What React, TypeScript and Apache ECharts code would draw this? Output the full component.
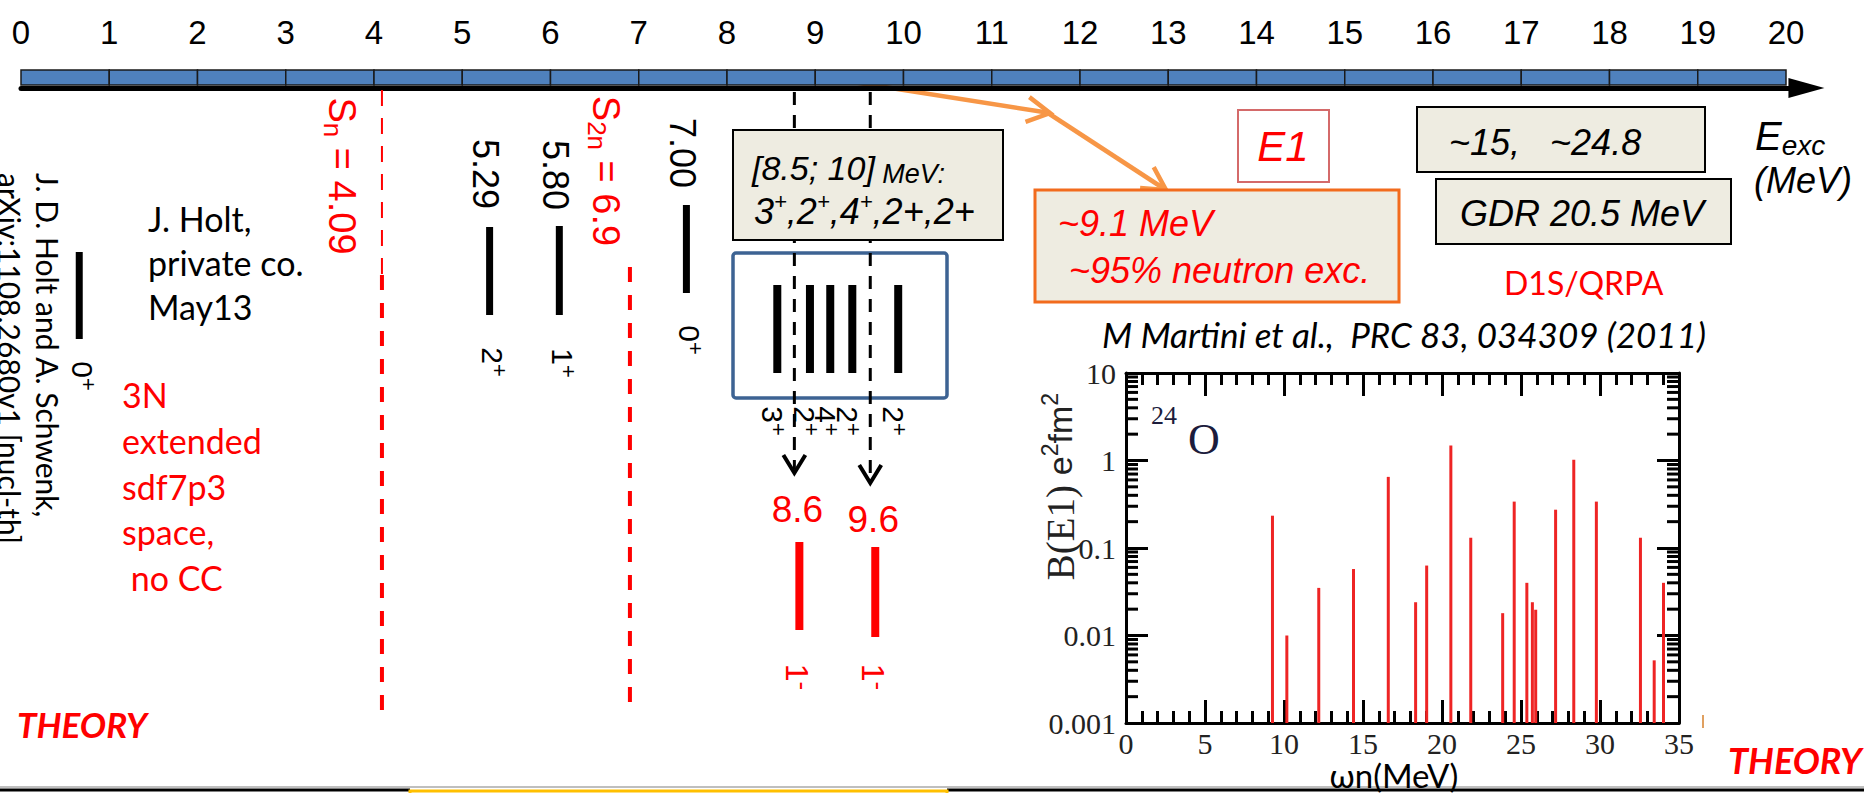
import React, { useEffect, useRef } from "react";
import * as echarts from "echarts";

// ================= DATA =================
// Main excitation-energy axis (MeV)
const energyTicks = [0, 1, 2, 3, 4, 5, 6, 7, 8, 9, 10, 11, 12, 13, 14, 15, 16, 17, 18, 19, 20];

// Shell-model levels (J. D. Holt, 3N, sdf7p3) – text and the MeV position where each is drawn
const levelLabels = ["", "5.29", "5.80", "7.00"];
const levelSpins = ["0", "2", "1", "0"];
const levelPositions = [0.66, 5.31, 6.1, 7.54];

// Separation energies
const thresholdSubscripts = ["n", "2n"];
const thresholdValues = [4.09, 6.9];

// Levels in the [8.5; 10] MeV window
const windowLevelPositions = [8.57, 8.94, 9.17, 9.42, 9.94];
const windowLevelSpins = ["3", "2", "4", "2", "2"];

// Predicted 1- states
const dipoleLabels = ["8.6", "9.6"];
const dipolePositions = [8.82, 9.68];

// Inset: D1S/QRPA B(E1) strengths for 24O
const qrpaEnergies = [9.27, 10.18, 12.2, 14.4, 16.6, 18.33, 19.03, 20.56, 21.82, 23.84, 24.57, 25.37, 25.72, 25.93, 27.19, 28.34, 29.77, 32.56, 33.43, 34.02];
const qrpaStrengths = [0.234, 0.01, 0.035, 0.0575, 0.65, 0.024, 0.063, 1.48, 0.131, 0.018, 0.339, 0.04, 0.024, 0.0197, 0.274, 1.02, 0.339, 0.131, 0.0052, 0.04];
const insetXTicks = [0, 5, 10, 15, 20, 25, 30, 35];
const insetYTickLabels = ["0.001", "0.01", "0.1", "1", "10"];
const minorDecades = [0.001, 0.01, 0.1, 1];
const minorSteps = [2, 3, 4, 5, 6, 7, 8, 9];

// ================= LAYOUT / STYLE =================
const ARIAL = "'Liberation Sans', Arial, Helvetica, sans-serif";
const CAL = "Lato, 'Open Sans', 'Noto Sans', sans-serif";
const TIMES = "'Liberation Serif', 'Times New Roman', serif";
const RED = "#ff0000";
const ROT = -Math.PI / 2;

const SEG_TOP = 70;
const SEG_H = 15;
const LEVEL_BAR_Y = [[252, 339], [227, 315], [226, 315], [205, 293]];
const LEVEL_LABEL_Y = [0, 174, 175, 153];
const LEVEL_SPIN_Y = [376, 362, 363, 340];
const THRESH_LABEL_DX = [-40, -24];
const THRESH_LABEL_Y = [176, 171];
const THRESH_THIN: (number[] | null)[] = [[90, 275], null];
const THRESH_THICK = [[275, 710], [267, 710]];
const WINDOW_BAR_Y = [285, 373];
const WINDOW_SPIN_Y = 421;
const DIPOLE_BAR_Y = [[542, 630], [547, 637]];
const DIPOLE_LABEL_Y = [509, 519];
const DIPOLE_SPIN_Y = 677;
const DIPOLE_ARROW_TIP = [473, 483];

type Opt = {
  size?: number; family?: string; color?: string; italic?: boolean; bold?: boolean;
  align?: string; valign?: string; rot?: number; rich?: any; lineHeight?: number; z?: number;
};

function txt(text: string, x: number, y: number, o: Opt = {}) {
  const align = o.align ?? "center";
  const valign = o.valign ?? "middle";
  const el: any = {
    type: "text",
    x,
    y,
    rotation: o.rot ?? 0,
    style: {
      text,
      fill: o.color ?? "#000",
      fontSize: o.size ?? 30,
      fontFamily: o.family ?? ARIAL,
      fontStyle: o.italic ? "italic" : "normal",
      fontWeight: o.bold ? "bold" : "normal",
      align,
      verticalAlign: valign,
      textAlign: align,
      textVerticalAlign: valign,
    },
  };
  if (o.rich) el.style.rich = o.rich;
  if (o.lineHeight) el.style.lineHeight = o.lineHeight;
  if (o.z !== undefined) el.z = o.z;
  return el;
}

function scriptRich(main: number, small: number, family: string, color: string, mode: "sup" | "sub", italic = false) {
  const fs = italic ? "italic" : "normal";
  return {
    a: { fontSize: main, lineHeight: Math.round(main * 1.15), fontFamily: family, fill: color, fontStyle: fs },
    s: { fontSize: small, lineHeight: small, fontFamily: family, fill: color, fontStyle: fs, verticalAlign: mode === "sup" ? "top" : "bottom" },
  };
}

function chevron(tx: number, ty: number, angle: number, len = 22, spread = 0.5) {
  const a1 = angle + Math.PI - spread;
  const a2 = angle + Math.PI + spread;
  return [
    [tx + len * Math.cos(a1), ty + len * Math.sin(a1)],
    [tx, ty],
    [tx + len * Math.cos(a2), ty + len * Math.sin(a2)],
  ];
}

function buildOption(): any {
  const segments = energyTicks.slice(0, -1).map((e, i) => [e, energyTicks[i + 1]]);
  const minorLogTicks = minorDecades.flatMap((d) => minorSteps.map((m) => [0, +(d * m).toPrecision(3)]));

  const customBase = (xi: number, yi: number) => ({
    type: "custom",
    coordinateSystem: "cartesian2d",
    xAxisIndex: xi,
    yAxisIndex: yi,
    clip: false,
    silent: true,
  });

  const orange = "#f79646";
  const a1 = Math.atan2(113 - 80, 1050 - 840);
  const a2 = Math.atan2(190 - 113, 1166 - 1048);

  const graphic: any[] = [
    // references / notes
    txt("J. D. Holt and A. Schwenk,\narXiv:1108.2680v1 [nucl-th]", 29, 173, { size: 30, family: CAL, align: "left", rot: ROT, lineHeight: 38 }),
    txt("J. Holt,\nprivate co.\nMay13", 148, 196, { size: 34, family: CAL, align: "left", valign: "top", lineHeight: 44 }),
    txt("3N\nextended\nsdf7p3\nspace,\n no CC", 122, 372, { size: 34, family: CAL, color: RED, align: "left", valign: "top", lineHeight: 45.7 }),
    txt("THEORY", 17, 724, { size: 35, family: CAL, color: RED, italic: true, bold: true, align: "left" }),
    txt("THEORY", 1728, 760, { size: 36, family: CAL, color: RED, italic: true, bold: true, align: "left" }),

    // [8.5; 10] MeV box
    { type: "rect", z: 10, shape: { x: 733, y: 130, width: 270, height: 110 }, style: { fill: "#eeece1", stroke: "#000", lineWidth: 2 } },
    txt("{a|[8.5; 10]}{m| MeV:}", 752, 168, {
      align: "left", z: 11, italic: true, size: 34,
      rich: {
        a: { fontSize: 34, lineHeight: 39, fontFamily: ARIAL, fontStyle: "italic", fill: "#000" },
        m: { fontSize: 27, lineHeight: 34, fontFamily: ARIAL, fontStyle: "italic", fill: "#000", verticalAlign: "bottom" },
      },
    }),
    txt("{a|3}{s|+}{a|,2}{s|+}{a|,4}{s|+}{a|,2+,2+}", 754, 211, {
      align: "left", z: 11, italic: true, size: 36,
      rich: scriptRich(36, 22, ARIAL, "#000", "sup", true),
    }),

    // blue window box
    { type: "rect", z: 1, shape: { x: 733, y: 253, width: 214, height: 145, r: 3 }, style: { fill: "none", stroke: "#3d6393", lineWidth: 3.5 } },

    // orange arrow
    { type: "polyline", shape: { points: [[840, 80], [1050, 113]] }, style: { stroke: orange, lineWidth: 4.5, fill: null } },
    { type: "polyline", shape: { points: chevron(1050, 113, a1, 26) }, style: { stroke: orange, lineWidth: 4.5, fill: null } },
    { type: "polyline", shape: { points: [[1048, 113], [1166, 190]] }, style: { stroke: orange, lineWidth: 4.5, fill: null } },
    { type: "polyline", shape: { points: chevron(1166, 190, a2, 26) }, style: { stroke: orange, lineWidth: 4.5, fill: null } },

    // E1 box
    { type: "rect", shape: { x: 1238, y: 110, width: 91, height: 72 }, style: { fill: "#fff", stroke: "#d46a6a", lineWidth: 2 } },
    txt("E1", 1283, 146, { size: 42, italic: true, color: RED }),

    // orange box
    { type: "rect", shape: { x: 1035, y: 190, width: 364, height: 112 }, style: { fill: "#eeece1", stroke: "#f26b1d", lineWidth: 3 } },
    txt("~9.1 MeV", 1058, 223, { size: 36, italic: true, color: RED, align: "left" }),
    txt("~95% neutron exc.", 1069, 270, { size: 36, italic: true, color: RED, align: "left" }),

    // GDR boxes
    { type: "rect", shape: { x: 1417, y: 107, width: 288, height: 65 }, style: { fill: "#eeece1", stroke: "#000", lineWidth: 2 } },
    txt("~15,   ~24.8", 1449, 142, { size: 36, italic: true, align: "left" }),
    { type: "rect", shape: { x: 1436, y: 179, width: 295, height: 65 }, style: { fill: "#eeece1", stroke: "#000", lineWidth: 2 } },
    txt("GDR 20.5 MeV", 1460, 213, { size: 36, italic: true, align: "left" }),

    // axis title
    txt("{a|E}{s|exc}", 1755, 136, { align: "left", italic: true, size: 40, rich: scriptRich(40, 28, ARIAL, "#000", "sub", true) }),
    txt("(MeV)", 1754, 180, { size: 36, italic: true, align: "left" }),

    txt("D1S/QRPA", 1504, 282, { size: 32, family: CAL, color: RED, align: "left" }),
    txt("M Martini et al.,  PRC 83, 034309 (2011)", 1102, 334, { size: 35, family: CAL, italic: true, align: "left" }),

    // inset y-axis title (reads upwards)
    txt("{a|B(E1) }{b|e}{s|2}{b|fm}{s|2}", 1060, 393, {
      align: "right", rot: Math.PI / 2, size: 38, family: TIMES, color: "#222",
      rich: {
        a: { fontFamily: TIMES, fontSize: 39, lineHeight: 44, fill: "#222" },
        b: { fontFamily: ARIAL, fontSize: 34, lineHeight: 44, fill: "#222" },
        s: { fontFamily: ARIAL, fontSize: 23, lineHeight: 23, verticalAlign: "top", fill: "#222" },
      },
    }),

    // 24O label in inset
    txt("24", 1151, 415, { size: 26, family: TIMES, color: "#1c1c3c", align: "left" }),
    txt("O", 1188, 439, { size: 44, family: TIMES, color: "#1c1c3c", align: "left" }),
    { type: "line", shape: { x1: 1703, y1: 715, x2: 1703, y2: 728 }, style: { stroke: "#e0a060", lineWidth: 2 } },

    // bottom rules
    { type: "line", shape: { x1: 0, y1: 787, x2: 1864, y2: 787 }, style: { stroke: "#aaa", lineWidth: 1.5 } },
    { type: "line", shape: { x1: 0, y1: 790, x2: 410, y2: 790 }, style: { stroke: "#000", lineWidth: 3 } },
    { type: "line", shape: { x1: 947, y1: 790, x2: 1864, y2: 790 }, style: { stroke: "#000", lineWidth: 3 } },
    { type: "polyline", shape: { points: [[410, 794], [410, 791], [947, 791], [947, 794]] }, style: { stroke: "#ffc000", lineWidth: 3, fill: null } },
  ];

  const tickStyle = { color: "#000", width: 3 };

  return {
    animation: false,
    backgroundColor: "#fff",
    graphic: { elements: graphic },
    grid: [
      { left: 21, top: 88, width: 20.05 * 88.25, height: 600, containLabel: false, outerBoundsMode: "none" },
      { left: 1126, top: 373, width: 553, height: 350, containLabel: false, outerBoundsMode: "none" },
    ],
    xAxis: [
      {
        gridIndex: 0, type: "value", position: "top", min: 0, max: 20.05, interval: 1,
        axisLine: { show: true, onZero: false, lineStyle: { color: "#000", width: 5 }, symbol: ["none", "triangle"], symbolSize: [20, 36], symbolOffset: [0, 16] },
        axisTick: { show: false }, splitLine: { show: false },
        axisLabel: {
          margin: 56, verticalAlign: "middle", fontSize: 33, fontFamily: ARIAL, color: "#000", showMaxLabel: false,
          formatter: (v: number) => (energyTicks.includes(v) ? String(v) : ""),
        },
      },
      {
        gridIndex: 1, type: "value", position: "bottom", min: 0, max: 35, interval: 5,
        axisLine: { onZero: false, lineStyle: { color: "#000", width: 3 } },
        axisTick: { inside: true, length: 23, lineStyle: tickStyle },
        minorTick: { show: true, splitNumber: 5, length: 12, lineStyle: tickStyle },
        splitLine: { show: false },
        axisLabel: {
          margin: 5, fontFamily: TIMES, fontSize: 30, color: "#222",
          formatter: (v: number) => (insetXTicks.includes(v) ? String(v) : ""),
        },
        name: "ωn(MeV)", nameLocation: "middle", nameGap: 28,
        nameTextStyle: { fontFamily: CAL, fontSize: 33, color: "#000", padding: [0, 17, 0, 0] },
      },
      {
        gridIndex: 1, type: "value", position: "top", min: 0, max: 35, interval: 5,
        axisLine: { onZero: false, lineStyle: { color: "#000", width: 3 } },
        axisTick: { inside: true, length: 23, lineStyle: tickStyle },
        minorTick: { show: true, splitNumber: 5, length: 12, lineStyle: tickStyle },
        splitLine: { show: false }, axisLabel: { show: false },
      },
    ],
    yAxis: [
      { gridIndex: 0, type: "value", min: 0, max: 1, show: false },
      {
        gridIndex: 1, type: "log", logBase: 10, min: 0.001, max: 10, position: "left",
        axisLine: { show: true, onZero: false, lineStyle: { color: "#000", width: 3 } },
        axisTick: { show: true, inside: true, length: 22, lineStyle: tickStyle },
        splitLine: { show: false },
        axisLabel: {
          margin: 10, fontFamily: TIMES, fontSize: 30, color: "#222",
          formatter: (v: number) => insetYTickLabels[Math.round(Math.log10(v)) + 3] ?? "",
        },
      },
      {
        gridIndex: 1, type: "log", logBase: 10, min: 0.001, max: 10, position: "right",
        axisLine: { show: true, onZero: false, lineStyle: { color: "#000", width: 3 } },
        axisTick: { show: true, inside: true, length: 22, lineStyle: tickStyle },
        splitLine: { show: false }, axisLabel: { show: false },
      },
    ],
    series: [
      // blue segments of the energy axis
      {
        ...customBase(0, 0),
        data: segments,
        renderItem: (_p: any, api: any) => {
          const x0 = api.coord([api.value(0), 0])[0];
          const x1 = api.coord([api.value(1), 0])[0];
          return { type: "rect", shape: { x: x0, y: SEG_TOP, width: x1 - x0, height: SEG_H }, style: { fill: "#4f81bd", stroke: "#1a1a1a", lineWidth: 1.5 } };
        },
      },
      // separation thresholds
      {
        ...customBase(0, 0),
        data: thresholdValues.map((v) => [v, 0]),
        renderItem: (params: any, api: any) => {
          const i = params.dataIndex;
          const x = api.coord([api.value(0), 0])[0];
          const children: any[] = [];
          const thin = THRESH_THIN[i];
          if (thin) children.push({ type: "line", shape: { x1: x, y1: thin[0], x2: x, y2: thin[1] }, style: { stroke: RED, lineWidth: 2, lineDash: [16, 12] } });
          const thick = THRESH_THICK[i];
          children.push({ type: "line", shape: { x1: x, y1: thick[0], x2: x, y2: thick[1] }, style: { stroke: RED, lineWidth: 4, lineDash: [15, 13] } });
          children.push(
            txt(`{a|S}{s|${thresholdSubscripts[i]}}{a| = ${thresholdValues[i]}}`, x + THRESH_LABEL_DX[i], THRESH_LABEL_Y[i], {
              rot: ROT, size: 38, color: RED, rich: scriptRich(38, 26, ARIAL, RED, "sub"),
            })
          );
          return { type: "group", children };
        },
      },
      // shell-model levels
      {
        ...customBase(0, 0),
        data: levelPositions.map((p) => [p, 0]),
        renderItem: (params: any, api: any) => {
          const i = params.dataIndex;
          const x = api.coord([api.value(0), 0])[0];
          const [y0, y1] = LEVEL_BAR_Y[i];
          const children: any[] = [
            { type: "rect", shape: { x: x - 3.5, y: y0, width: 7, height: y1 - y0 }, style: { fill: "#000" } },
            txt(`{a|${levelSpins[i]}}{s|+}`, x + 3, LEVEL_SPIN_Y[i], { rot: ROT, size: 30, rich: scriptRich(30, 22, ARIAL, "#000", "sup") }),
          ];
          if (levelLabels[i]) children.push(txt(levelLabels[i], x - 4, LEVEL_LABEL_Y[i], { size: 36, rot: ROT }));
          return { type: "group", children };
        },
      },
      // levels in the [8.5;10] MeV window
      {
        ...customBase(0, 0),
        data: windowLevelPositions.map((p) => [p, 0]),
        renderItem: (params: any, api: any) => {
          const i = params.dataIndex;
          const x = api.coord([api.value(0), 0])[0];
          return {
            type: "group",
            children: [
              { type: "rect", shape: { x: x - 4, y: WINDOW_BAR_Y[0], width: 8, height: WINDOW_BAR_Y[1] - WINDOW_BAR_Y[0] }, style: { fill: "#000" } },
              txt(`{a|${windowLevelSpins[i]}}{s|+}`, x - 5, WINDOW_SPIN_Y, { rot: ROT, size: 30, rich: scriptRich(30, 22, ARIAL, "#000", "sup") }),
            ],
          };
        },
      },
      // predicted 1- states with dashed arrows
      {
        ...customBase(0, 0),
        data: dipolePositions.map((p) => [p, 0]),
        renderItem: (params: any, api: any) => {
          const i = params.dataIndex;
          const x = api.coord([api.value(0), 0])[0];
          const ax = x - 5;
          const tip = DIPOLE_ARROW_TIP[i];
          const [y0, y1] = DIPOLE_BAR_Y[i];
          return {
            type: "group",
            children: [
              { type: "line", shape: { x1: ax, y1: 92, x2: ax, y2: tip - 4 }, style: { stroke: "#000", lineWidth: 3, lineDash: [13, 10] } },
              { type: "polyline", shape: { points: [[ax - 11, tip - 18], [ax, tip], [ax + 11, tip - 18]] }, style: { stroke: "#000", lineWidth: 4, fill: null } },
              { type: "rect", shape: { x: x - 4, y: y0, width: 8, height: y1 - y0 }, style: { fill: RED } },
              txt(dipoleLabels[i], x - 2, DIPOLE_LABEL_Y[i], { size: 37, color: RED }),
              txt("{a|1}{s|-}", x - 2, DIPOLE_SPIN_Y, { rot: ROT, size: 32, color: RED, rich: scriptRich(32, 26, ARIAL, RED, "sup") }),
            ],
          };
        },
      },
      // inset: minor log ticks on both y axes
      {
        ...customBase(1, 1),
        data: minorLogTicks,
        renderItem: (params: any, api: any) => {
          const y = api.coord([0, api.value(1)])[1];
          const cs = params.coordSys;
          return {
            type: "group",
            children: [
              { type: "line", shape: { x1: cs.x, y1: y, x2: cs.x + 12, y2: y }, style: { stroke: "#000", lineWidth: 3 } },
              { type: "line", shape: { x1: cs.x + cs.width - 12, y1: y, x2: cs.x + cs.width, y2: y }, style: { stroke: "#000", lineWidth: 3 } },
            ],
          };
        },
      },
      // inset: B(E1) strength bars
      {
        ...customBase(1, 1),
        data: qrpaEnergies.map((e, i) => [e, qrpaStrengths[i]]),
        renderItem: (_p: any, api: any) => {
          const top = api.coord([api.value(0), api.value(1)]);
          const base = api.coord([api.value(0), 0.001]);
          return { type: "rect", shape: { x: top[0] - 1.5, y: top[1], width: 3, height: base[1] - top[1] }, style: { fill: "#ee2424" } };
        },
      },
    ],
  };
}

export default function App() {
  const ref = useRef<HTMLDivElement>(null);
  useEffect(() => {
    document.body.style.margin = "0";
    document.body.style.overflow = "hidden";
    const chart = echarts.init(ref.current as HTMLDivElement, null, { renderer: "svg" });
    chart.setOption(buildOption());
    return () => chart.dispose();
  }, []);
  return <div ref={ref} style={{ width: 1864, height: 793 }} />;
}
